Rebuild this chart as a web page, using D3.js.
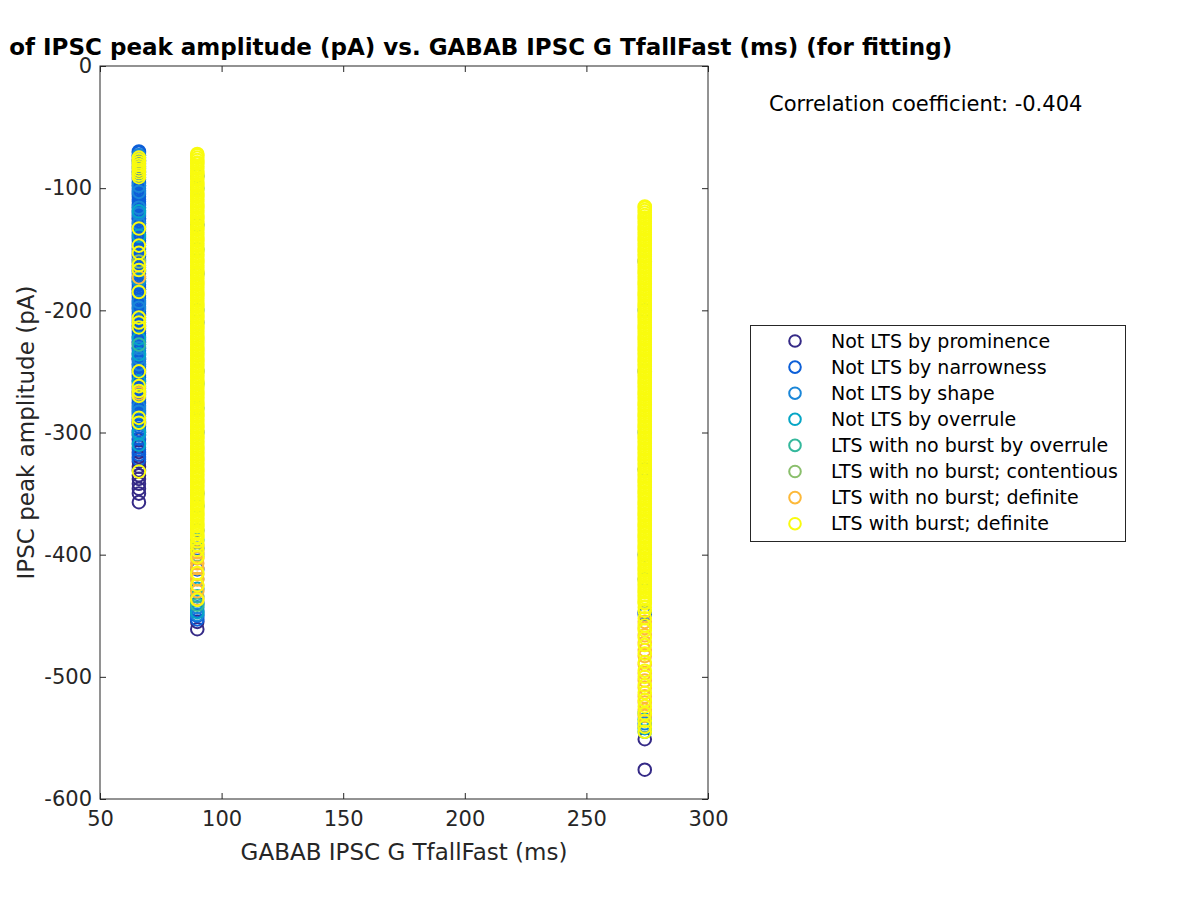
<!DOCTYPE html>
<html>
<head>
<meta charset="utf-8">
<script src="https://cdn.jsdelivr.net/npm/d3@7"></script>
<style>
  body { margin: 0; background: #fff; }
  text { font-family: "DejaVu Sans", sans-serif; fill: #262626; }
</style>
</head>
<body>
<div id="scatter"></div>
<script>
// x levels (GABAB IPSC G TfallFast, ms) shared by all classes
var xLevels = [66, 90, 274];

var classLabels = [
    "Not LTS by prominence",
    "Not LTS by narrowness",
    "Not LTS by shape",
    "Not LTS by overrule",
    "LTS with no burst by overrule",
    "LTS with no burst; contentious",
    "LTS with no burst; definite",
    "LTS with burst; definite"
];
var classColors = ["#352a87", "#0c5fd8", "#1a86d8", "#06a6c6", "#34b89c", "#8abf6c", "#fdb93a", "#f9fb0e"];

// peak amplitudes (pA), one list per x level: [x=66, x=90, x=274]
var prominence = [
    [-125, -183, -226, -240, -292, -300, -306, -312, -316, -320, -324, -328, -331, -335, -338, -342, -346, -350, -357],
    [-455, -461],
    [-551, -576]
];
var narrowness = [
    [-70, -71, -73, -75, -77, -78, -80, -82, -84, -86, -87, -89, -91, -93, -95, -96, -98, -100, -102, -104, -105, -107, -109, -111,
     -113, -114, -116, -118, -120, -122, -123, -125, -127, -129, -131, -132, -134, -136, -138, -140, -141, -143, -145, -147, -149,
     -150, -152, -154, -156, -158, -159, -161, -163, -165, -167, -168, -170, -172, -174, -176, -177, -179, -181, -183, -185, -186,
     -188, -190, -192, -194, -195, -197, -199, -201, -203, -204, -206, -208, -210, -212, -213, -215, -217, -219, -221, -222, -224,
     -226, -228, -230, -231, -233, -235, -237, -239, -240, -242, -244, -246, -248, -249, -251, -253, -255, -257, -258, -260, -262,
     -264, -266, -267, -269, -271, -273, -275, -276, -278, -280, -282, -284, -285, -287, -289, -291, -293, -295, -298, -302, -305,
     -309, -314, -318, -322],
    [-90, -130, -170, -210, -250, -300, -350, -380, -395, -412, -440, -446, -450, -453],
    [-160, -250, -330, -400, -447, -449]
];
var shape = [
    [-73, -98, -103, -116, -121, -129, -176, -193, -198, -231, -239, -244, -279, -283, -302],
    [-100, -200, -280, -360, -443, -449],
    [-200, -300, -420, -538]
];
var overrule = [
    [-119, -139, -174, -223, -236, -258, -300, -310],
    [-150, -260, -388, -428, -447],
    [-535, -542, -545]
];
var noBurstOverrule = [
    [-228],
    [-434, -441],
    [-530]
];
var contentious = [
    [-160],
    [-400, -420],
    [-540]
];
var noBurstDefinite = [
    [-173, -268],
    [-392, -398, -403, -407, -411, -416, -420, -425, -430, -436],
    [-455, -460, -466, -472, -478, -483, -490, -497, -503, -509, -516, -521, -527, -532]
];
var burstDefinite = [
    [-75, -77, -79, -81, -83, -85, -87, -89, -91, -133, -147, -153, -163, -167, -185, -206, -210, -214, -250, -262, -266, -270,
     -288, -292, -332],
    [-72, -73, -75, -77, -79, -80, -82, -84, -86, -88, -89, -91, -93, -95, -97, -98, -100, -102, -104, -106, -107, -109, -111,
     -113, -115, -116, -118, -120, -122, -124, -125, -127, -129, -131, -133, -134, -136, -138, -140, -142, -143, -145, -147, -149,
     -151, -152, -154, -156, -158, -160, -161, -163, -165, -167, -169, -170, -172, -174, -176, -178, -179, -181, -183, -185, -187,
     -188, -190, -192, -194, -196, -197, -199, -201, -203, -205, -206, -208, -210, -212, -214, -215, -217, -219, -221, -223, -224,
     -226, -228, -230, -232, -233, -235, -237, -239, -241, -242, -244, -246, -248, -250, -251, -253, -255, -257, -259, -260, -262,
     -264, -266, -268, -269, -271, -273, -275, -277, -278, -280, -282, -284, -286, -287, -289, -291, -293, -295, -296, -298, -300,
     -302, -304, -305, -307, -309, -311, -313, -314, -316, -318, -320, -322, -323, -325, -327, -329, -331, -332, -334, -336, -338,
     -340, -341, -343, -345, -347, -349, -350, -352, -354, -356, -358, -359, -361, -363, -365, -367, -368, -370, -372, -374, -376,
     -377, -379, -381, -383, -385, -386, -389, -392, -396, -402, -415, -425, -437],
    [-115, -116, -118, -120, -122, -124, -125, -127, -129, -131, -133, -134, -136, -138, -140, -142, -143, -145, -147, -149, -151,
     -152, -154, -156, -158, -160, -161, -163, -165, -167, -169, -170, -172, -174, -176, -178, -179, -181, -183, -185, -187, -188,
     -190, -192, -194, -196, -197, -199, -201, -203, -205, -206, -208, -210, -212, -214, -215, -217, -219, -221, -223, -224, -226,
     -228, -230, -232, -233, -235, -237, -239, -241, -242, -244, -246, -248, -250, -251, -253, -255, -257, -259, -260, -262, -264,
     -266, -268, -269, -271, -273, -275, -277, -278, -280, -282, -284, -286, -287, -289, -291, -293, -295, -296, -298, -300, -302,
     -304, -305, -307, -309, -311, -313, -314, -316, -318, -320, -322, -323, -325, -327, -329, -331, -332, -334, -336, -338, -340,
     -341, -343, -345, -347, -349, -350, -352, -354, -356, -358, -359, -361, -363, -365, -367, -368, -370, -372, -374, -376, -377,
     -379, -381, -383, -385, -386, -388, -390, -392, -394, -395, -397, -399, -401, -403, -404, -406, -408, -410, -412, -413, -415,
     -417, -419, -421, -422, -424, -426, -428, -430, -431, -433, -435, -437, -439, -440, -443, -446, -452, -458, -462, -468, -474,
     -481, -488, -495, -500, -507, -513, -519, -524, -530, -536, -541, -545]
];
var classData = [prominence, narrowness, shape, overrule, noBurstOverrule, contentious, noBurstDefinite, burstDefinite];

var xTicks = [50, 100, 150, 200, 250, 300];
var yTicks = [-600, -500, -400, -300, -200, -100, 0];
var corrText = "Correlation coefficient: -0.404";

// svg size and margins
var svgWidth = 1200;
var svgHeight = 900;
var margin = { top: 66, right: 492, bottom: 101, left: 100 };
var width = svgWidth - margin.left - margin.right;
var height = svgHeight - margin.top - margin.bottom;

// marker look
var markerR = 6.3;
var markerW = 2;

var svg = d3.select("#scatter")
    .append("svg")
    .attr("width", svgWidth)
    .attr("height", svgHeight);

var chartGroup = svg.append("g")
    .attr("transform", `translate(${margin.left}, ${margin.top})`);

var xScale = d3.scaleLinear().domain([50, 300]).range([0, width]);
var yScale = d3.scaleLinear().domain([-600, 0]).range([height, 0]);

// flatten into points, in class order so the last class is drawn on top
var points = [];
classData.forEach(function(cls, ci) {
    cls.forEach(function(vals, xi) {
        vals.forEach(function(v) {
            points.push({ x: xLevels[xi], y: v, c: ci });
        });
    });
});

// axes, ticks pointing inward like matlab
var fmt = d => String(d);
chartGroup.append("g")
    .attr("transform", `translate(0, ${height})`)
    .call(d3.axisBottom(xScale).tickValues(xTicks).tickFormat(fmt).tickSizeInner(-6).tickSizeOuter(0).tickPadding(12))
    .attr("class", "axis");
chartGroup.append("g")
    .call(d3.axisLeft(yScale).tickValues(yTicks).tickFormat(fmt).tickSizeInner(-6).tickSizeOuter(0).tickPadding(8))
    .attr("class", "axis");
chartGroup.append("g")
    .call(d3.axisTop(xScale).tickValues(xTicks).tickFormat("").tickSizeInner(-6).tickSizeOuter(0))
    .attr("class", "axis");
chartGroup.append("g")
    .attr("transform", `translate(${width}, 0)`)
    .call(d3.axisRight(yScale).tickValues(yTicks).tickFormat("").tickSizeInner(-6).tickSizeOuter(0))
    .attr("class", "axis");

svg.selectAll(".axis text")
    .attr("font-family", "DejaVu Sans")
    .attr("font-size", 21)
    .attr("fill", "#262626");
svg.selectAll(".axis line").attr("stroke", "#262626");
svg.selectAll(".axis path").remove();

chartGroup.append("rect")
    .attr("x", 0).attr("y", 0)
    .attr("width", width).attr("height", height)
    .attr("fill", "none")
    .attr("stroke", "#262626")
    .attr("stroke-width", 1);

// scatter markers
chartGroup.append("g")
    .selectAll("circle")
    .data(points)
    .enter()
    .append("circle")
    .attr("cx", d => xScale(d.x))
    .attr("cy", d => yScale(d.y))
    .attr("r", markerR)
    .attr("fill", "none")
    .attr("stroke", d => classColors[d.c])
    .attr("stroke-width", markerW);

// title and labels
svg.append("text")
    .attr("x", margin.left + width / 2)
    .attr("y", 55)
    .attr("text-anchor", "middle")
    .attr("font-size", 23)
    .attr("font-weight", "bold")
    .style("fill", "#000")
    .text("Correlation of IPSC peak amplitude (pA) vs. GABAB IPSC G TfallFast (ms) (for fitting)");

svg.append("text")
    .attr("x", margin.left + width / 2)
    .attr("y", 860)
    .attr("text-anchor", "middle")
    .attr("font-size", 23)
    .text("GABAB IPSC G TfallFast (ms)");

svg.append("text")
    .attr("transform", `translate(34, ${margin.top + height / 2}) rotate(-90)`)
    .attr("text-anchor", "middle")
    .attr("font-size", 23)
    .text("IPSC peak amplitude (pA)");

svg.append("text")
    .attr("x", 769)
    .attr("y", 111)
    .attr("font-size", 21)
    .style("fill", "#000")
    .text(corrText);

// legend
var legend = svg.append("g").attr("transform", "translate(750, 325)");
legend.append("rect")
    .attr("x", 0.5).attr("y", 0.5)
    .attr("width", 375).attr("height", 216)
    .attr("fill", "#fff")
    .attr("stroke", "#262626");
var rows = legend.selectAll(".row")
    .data(classLabels)
    .enter()
    .append("g")
    .attr("transform", (d, i) => `translate(0, ${16 + i * 26.1})`);
rows.append("circle")
    .attr("cx", 45)
    .attr("cy", 0)
    .attr("r", 5.8)
    .attr("fill", "none")
    .attr("stroke", (d, i) => classColors[i])
    .attr("stroke-width", markerW);
rows.append("text")
    .attr("x", 81)
    .attr("y", 6.5)
    .attr("font-size", 19)
    .style("fill", "#000")
    .text(d => d);
</script>
</body>
</html>
